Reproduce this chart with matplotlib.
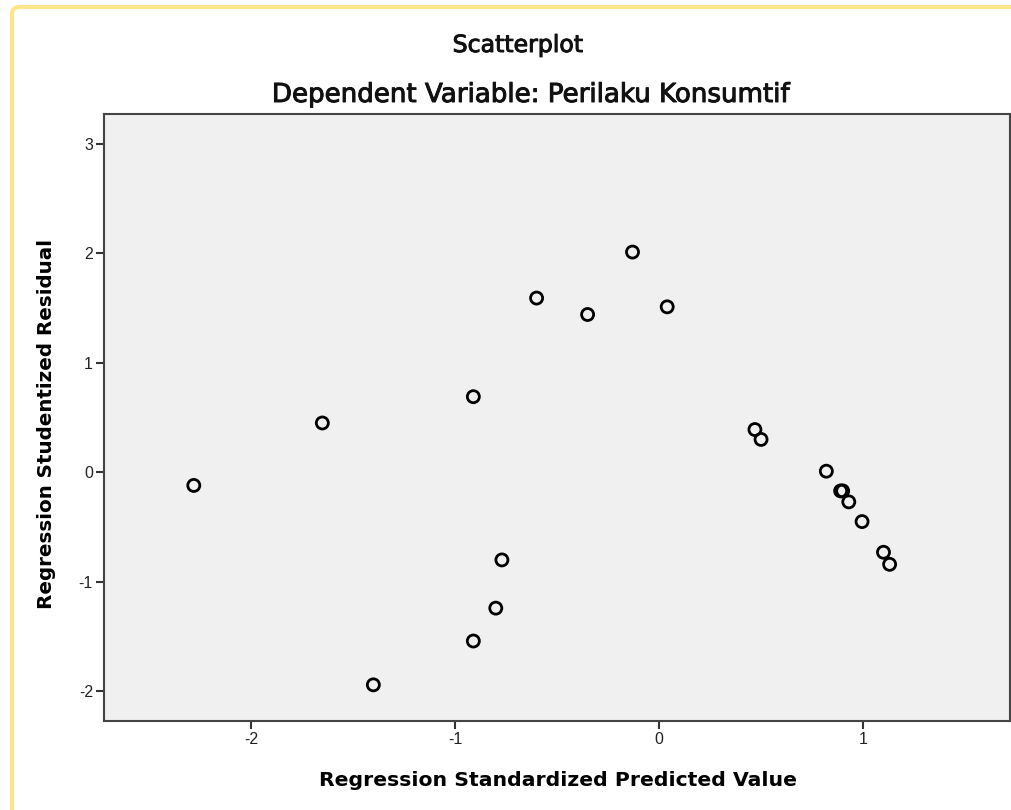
import matplotlib
matplotlib.use("Agg")
import matplotlib.pyplot as plt
import matplotlib.patheffects as pe
from matplotlib.patches import FancyBboxPatch

plt.rcParams['font.family'] = ['Liberation Sans', 'DejaVu Sans']

pred = [-2.28, -1.65, -1.40, -0.91, -0.91, -0.80, -0.77, -0.60, -0.35, -0.13,
        0.04, 0.47, 0.50, 0.82, 0.89, 0.90, 0.93, 0.995, 1.10, 1.13]
resid = [-0.12, 0.45, -1.94, 0.69, -1.54, -1.24, -0.80, 1.59, 1.44, 2.01,
         1.51, 0.39, 0.30, 0.01, -0.17, -0.17, -0.27, -0.45, -0.73, -0.84]
xticks = [-2, -1, 0, 1]
yticks = [-2, -1, 0, 1, 2, 3]

fig = plt.figure(figsize=(10.11, 8.10), dpi=100)
fig.patch.set_facecolor('white')

border = FancyBboxPatch((12/1011, -0.1), 1.2, 1 - 7/810 + 0.1,
                        boxstyle="round,pad=0,rounding_size=0.008",
                        transform=fig.transFigure, facecolor='none',
                        edgecolor='#FFE68A', linewidth=3, zorder=0)
fig.patches.append(border)

ax = fig.add_axes([104/1011, 1 - 721/810, (1010 - 104)/1011, (721 - 114)/810])
ax.set_facecolor('#F0F0F0')
ax.scatter(pred, resid, s=75, facecolors='none', edgecolors='black',
           linewidths=2.0, zorder=3)

ax.set_xlim(-2.72, 1.72)
ax.set_ylim(-2.27, 3.27)
ax.set_xticks(xticks)
ax.set_yticks(yticks)
ax.set_xticklabels([str(v) for v in xticks])
ax.set_yticklabels([str(v) for v in yticks])
ax.tick_params(direction='out', length=6, width=1.5, color='#333333',
               labelsize=11.5, labelcolor='#222222', pad=2)
for sp in ax.spines.values():
    sp.set_color('#444444')
    sp.set_linewidth(1.5)

fig.text(558/1011, 1 - 780/810, 'Regression Standardized Predicted Value',
         ha='center', va='center', fontsize=14.7, fontweight='bold',
         family='DejaVu Sans')
fig.text(47/1011, 1 - 424/810, 'Regression Studentized Residual',
         ha='center', va='center', rotation=90, fontsize=14.3,
         fontweight='bold', family='DejaVu Sans')

thick = [pe.withStroke(linewidth=0.7, foreground='#111111')]
fig.text(518/1011, 1 - 45/810, 'Scatterplot', ha='center', va='center',
         fontsize=17, family='DejaVu Sans', color='#111111', path_effects=thick)
fig.text(532/1011, 1 - 95/810, 'Dependent Variable: Perilaku Konsumtif',
         ha='center', va='center', fontsize=18.8, family='DejaVu Sans',
         color='#111111', path_effects=thick)

fig.savefig('out.png', dpi=100, facecolor='white')
